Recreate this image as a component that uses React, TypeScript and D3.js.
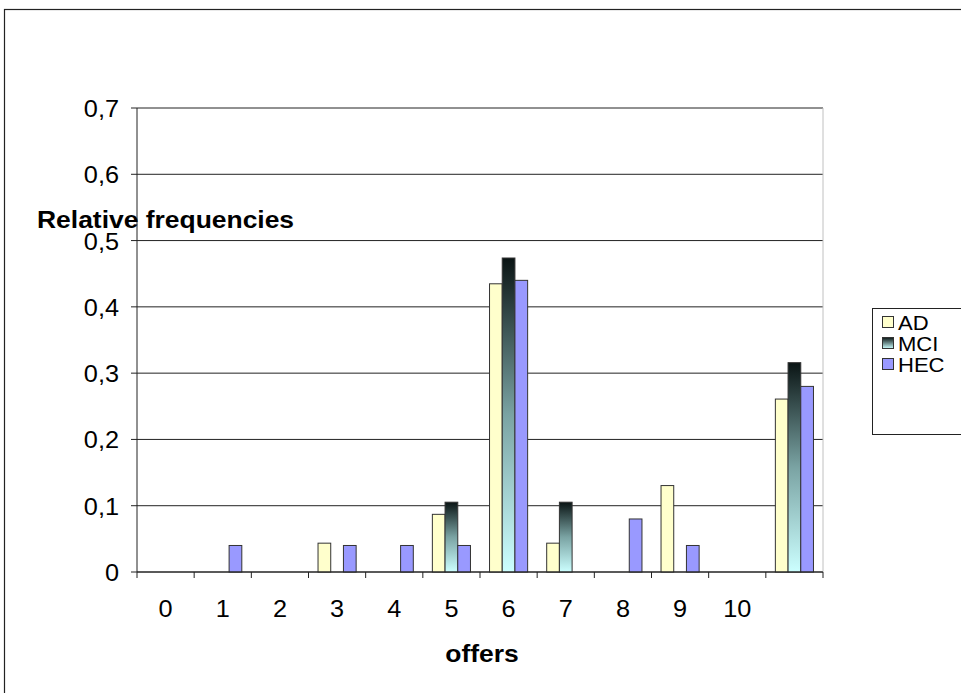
import React from "react";
import * as d3 from "d3";

const categories = ["0", "1", "2", "3", "4", "5", "6", "7", "8", "9", "10", "11"];
const tickLabels = ["0", "1", "2", "3", "4", "5", "6", "7", "8", "9", "10", ""];
const seriesNames = ["AD", "MCI", "HEC"];
const adValues = [0, 0, 0, 0.0435, 0, 0.087, 0.4348, 0.0435, 0, 0.1304, 0, 0.2609];
const mciValues = [0, 0, 0, 0, 0, 0.1053, 0.4737, 0.1053, 0, 0, 0, 0.3158];
const hecValues = [0, 0.04, 0, 0.04, 0.04, 0.04, 0.44, 0, 0.08, 0.04, 0, 0.28];
const yTicks = [0, 0.1, 0.2, 0.3, 0.4, 0.5, 0.6, 0.7];

const W = 961;
const H = 693;
const plot = { left: 137, right: 823, top: 108, bottom: 572 };
const FONT = "'Liberation Sans', Arial, sans-serif";

function T(props: {
  x: number;
  y: number;
  anchor?: "start" | "middle" | "end";
  bold?: boolean;
  size?: number;
  sx?: number;
  children: React.ReactNode;
}) {
  const sx = props.sx ?? 1.1;
  return (
    <g transform={`translate(${props.x},${props.y}) scale(${sx},1)`}>
      <text
        x={0}
        y={0}
        textAnchor={props.anchor || "start"}
        fontFamily={FONT}
        fontSize={props.size ?? 23}
        fontWeight={props.bold ? "bold" : "normal"}
        fill="#000"
      >
        {props.children}
      </text>
    </g>
  );
}

export default function App() {
  const x = d3
    .scaleBand<string>()
    .domain(categories)
    .range([plot.left, plot.right])
    .paddingInner(0)
    .paddingOuter(0);
  const y = d3.scaleLinear().domain([0, 0.7]).range([plot.bottom, plot.top]);
  const bw = x.bandwidth();
  const barW = bw / 4.5;
  const groupOffset = (bw - 3 * barW) / 2;
  const fills = ["#ffffcc", "url(#mciGrad)", "#9999ff"];
  const series = [adValues, mciValues, hecValues];
  const fmt = (v: number) => (v === 0 ? "0" : d3.format(".1f")(v).replace(".", ","));

  return (
    <svg width={W} height={H} style={{ position: "absolute", left: 0, top: 0, display: "block" }}>
      <defs>
        <linearGradient id="mciGrad" x1="0" y1="0" x2="0" y2="1">
          <stop offset="0%" stopColor="#0a1414" />
          <stop offset="50%" stopColor="#7aa3a3" />
          <stop offset="100%" stopColor="#ccffff" />
        </linearGradient>
        <linearGradient id="mciGradLeg" x1="0" y1="0" x2="0" y2="1">
          <stop offset="0%" stopColor="#0a1414" />
          <stop offset="100%" stopColor="#ccffff" />
        </linearGradient>
      </defs>
      <rect x={0} y={0} width={W} height={H} fill="#fff" />
      <rect x={4.5} y={9.5} width={W + 10} height={H + 10} fill="none" stroke="#222" strokeWidth={1.2} />

      {yTicks.map((t) => (
        <line key={"g" + t} x1={plot.left} x2={plot.right} y1={y(t)} y2={y(t)} stroke="#222" strokeWidth={1} />
      ))}
      <line x1={plot.right} x2={plot.right} y1={plot.top} y2={plot.bottom} stroke="#c0c0c0" strokeWidth={1} />

      {series.map((vals, si) =>
        vals.map((v, i) =>
          v > 0 ? (
            <rect
              key={si + "-" + i}
              x={(x(categories[i]) as number) + groupOffset + si * barW}
              y={y(v)}
              width={barW}
              height={y(0) - y(v)}
              fill={fills[si]}
              stroke="#333"
              strokeWidth={1}
            />
          ) : null
        )
      )}

      <line x1={plot.left} x2={plot.left} y1={plot.top} y2={plot.bottom} stroke="#222" strokeWidth={1} />
      <line x1={plot.left} x2={plot.right} y1={plot.bottom} y2={plot.bottom} stroke="#222" strokeWidth={1} />
      {yTicks.map((t) => (
        <g key={"yt" + t}>
          <line x1={plot.left - 6} x2={plot.left} y1={y(t)} y2={y(t)} stroke="#222" />
          <T x={119} y={y(t) + 9} anchor="end">
            {fmt(t)}
          </T>
        </g>
      ))}
      {categories.map((c) => (
        <line key={"xt" + c} x1={x(c) as number} x2={x(c) as number} y1={plot.bottom} y2={plot.bottom + 6} stroke="#222" />
      ))}
      <line x1={plot.right} x2={plot.right} y1={plot.bottom} y2={plot.bottom + 6} stroke="#222" />
      {categories.map((c, i) => (
        <T key={"xl" + c} x={(x(c) as number) + bw / 2} y={617} anchor="middle">
          {tickLabels[i]}
        </T>
      ))}

      <T x={482} y={662} anchor="middle" bold sx={1.15}>
        offers
      </T>
      <T x={37} y={228} bold sx={1.15}>
        Relative frequencies
      </T>

      <rect x={872.5} y={308.5} width={120} height={126} fill="#fff" stroke="#222" strokeWidth={1} />
      {seriesNames.map((n, i) => (
        <g key={"lg" + n}>
          <rect
            x={882.5}
            y={316.5 + i * 21}
            width={11}
            height={11}
            fill={i === 1 ? "url(#mciGradLeg)" : fills[i]}
            stroke="#333"
          />
          <T x={898} y={329.5 + i * 21} size={21} sx={1.05}>
            {n}
          </T>
        </g>
      ))}
    </svg>
  );
}
